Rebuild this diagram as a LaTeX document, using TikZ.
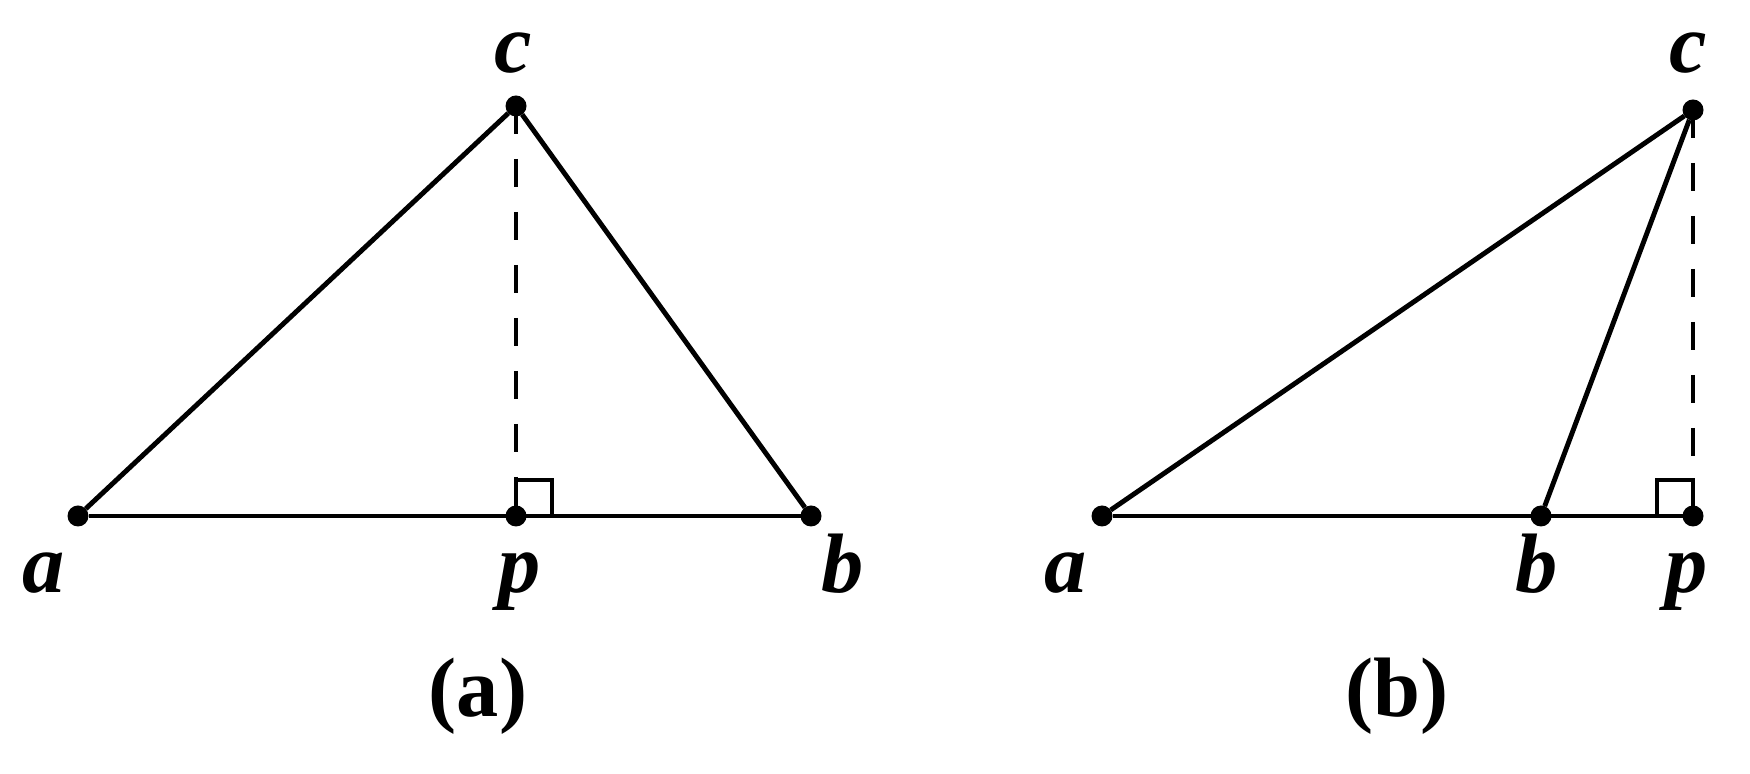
\documentclass[tikz,border=0pt]{standalone}
\usepackage{fontspec}
\setmainfont{Liberation Serif}
\begin{document}
\begin{tikzpicture}
\tikzset{ inner sep=0pt, outer sep=0pt,
  dot/.style={fill=black, circle, minimum size=0.21cm},
  seg/.style={line width=1.4pt},
  perp/.style={line width=1.4pt, dash pattern=on 0.28cm off 0.25cm},
  lbl/.style={anchor=base, font=\fontsize{24}{28}\selectfont\bfseries\itshape},
  sublbl/.style={anchor=base, font=\fontsize{24}{28}\selectfont\bfseries},
}
\useasboundingbox (0,0) rectangle (17.5,7.74);

%\draw [lightgray, dashed](0,0) grid (17,7);

% (a)
\node [dot] (a1) at (0.78,2.58) {};
\node [dot] (p1) at (5.16,2.58) {};
\node [dot] (b1) at (8.11,2.58) {};
\node [dot] (c1) at (5.16,6.68) {};

\draw [seg] (a1) -- (b1);
\draw [seg] (a1) -- (c1);
\draw [seg] (c1) -- (b1);
\draw [perp] (c1.center) -- (p1.center);
\draw [seg] (p1.center) rectangle ++(0.36,0.36);

\node [lbl] (la1) at (0.44,1.81) {a};
\node [lbl] (lp1) at (5.20,1.81) {p};
\node [lbl] (lb1) at (8.43,1.81) {b};
\node [lbl] (lc1) at (5.13,7.01) {c};
\node [sublbl] (ca) at (4.78,0.57) {(a)};

% (b)
\node [dot] (a2) at (11.02,2.58) {};
\node [dot] (b2) at (15.41,2.58) {};
\node [dot] (p2) at (16.93,2.58) {};
\node [dot] (c2) at (16.93,6.64) {};

\draw [seg] (a2) -- (p2);
\draw [seg] (a2) -- (c2);
\draw [seg] (c2) -- (b2);
\draw [perp] (c2.center) -- (p2.center);
\draw [seg] (p2.center) rectangle ++(-0.36,0.36);

\node [lbl] (la2) at (10.66,1.81) {a};
\node [lbl] (lb2) at (15.37,1.81) {b};
\node [lbl] (lp2) at (16.87,1.81) {p};
\node [lbl] (lc2) at (16.88,7.01) {c};
\node [sublbl] (cb) at (13.97,0.57) {(b)};

\end{tikzpicture}
\end{document}
